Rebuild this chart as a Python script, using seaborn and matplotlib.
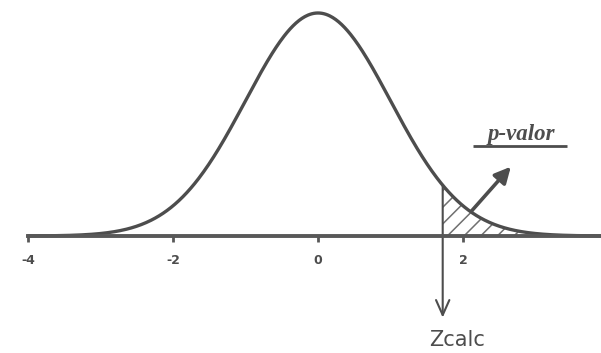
import numpy as np
import pandas as pd
import matplotlib
matplotlib.use("Agg")
import matplotlib.pyplot as plt
import seaborn as sns

# ---- data ----
mean = 0.0
sd = 1.0
z_calc = 1.72
z_start = -4.0
z_end = 4.2
tick_values = [-4, -2, 0, 2]
tick_labels = ["-4", "-2", "0", "2"]
pvalue_label = "p-valor"
zcalc_label = "Zcalc"

z = np.linspace(z_start, z_end, 600)
density = np.exp(-0.5 * ((z - mean) / sd) ** 2) / (sd * np.sqrt(2 * np.pi))
curve = pd.DataFrame({"z": z, "density": density})
tail = curve[curve["z"] >= z_calc]

# ---- style ----
sns.set_theme(style="white")
plt.rcParams["font.family"] = ["DejaVu Sans"]
plt.rcParams["hatch.linewidth"] = 1.1
plt.rcParams["hatch.color"] = "#707070"

ink = "#4d4d4d"

fig = plt.figure(figsize=(6.01, 3.53), dpi=100)
ax = fig.add_axes([0, 0, 1, 1])

sns.lineplot(data=curve, x="z", y="density", ax=ax, color=ink, linewidth=2.4)

ax.fill_between(tail["z"], 0, tail["density"], facecolor="none",
                edgecolor="#707070", hatch="//", linewidth=0)

# vertical line at Zcalc with arrow down
pdf_calc = np.exp(-0.5 * ((z_calc - mean) / sd) ** 2) / (sd * np.sqrt(2 * np.pi))
ax.annotate("", xy=(z_calc, -0.146), xytext=(z_calc, pdf_calc),
            arrowprops=dict(arrowstyle="->,head_length=0.9,head_width=0.4",
                            color=ink, lw=1.5, shrinkA=0, shrinkB=0))
ax.text(z_calc + 0.2, -0.186, zcalc_label, ha="center", va="center",
        fontsize=15, color=ink, family=["DejaVu Sans"], fontweight="medium")

# p-valor label with underline and arrow
ax.text(2.80, 0.172, pvalue_label, ha="center", va="baseline",
        fontsize=16.5, color=ink, family=["Liberation Serif", "DejaVu Serif"],
        style="italic", fontweight="bold")
ax.plot([2.14, 3.43], [0.161, 0.161], color=ink, lw=2.0,
        solid_capstyle="butt")
ax.annotate("", xy=(2.66, 0.124), xytext=(2.12, 0.045),
            arrowprops=dict(arrowstyle="-|>,head_length=0.8,head_width=0.4",
                            color=ink, lw=2.6, shrinkA=0, shrinkB=0))

# axes
ax.set_xlim(-318 / 72.5, 283 / 72.5)
ax.set_ylim(-(353 - 236) / 559, 236 / 559)
for side in ["left", "top", "right"]:
    ax.spines[side].set_visible(False)
ax.spines["bottom"].set_position(("data", 0))
ax.spines["bottom"].set_bounds(z_start, 4.5)
ax.spines["bottom"].set_linewidth(2.8)
ax.spines["bottom"].set_color("#585858")
ax.spines["bottom"].set_zorder(3)
ax.set_xticks(tick_values)
ax.set_xticklabels(tick_labels)
ax.set_yticks([])
ax.tick_params(axis="x", direction="out", length=4, width=2, color="#585858",
               labelsize=9, labelcolor=ink, pad=9, bottom=True)
for lbl in ax.get_xticklabels():
    lbl.set_fontweight("bold")
ax.set_xlabel("")
ax.set_ylabel("")
ax.patch.set_visible(False)

fig.savefig("out.png", dpi=100)
